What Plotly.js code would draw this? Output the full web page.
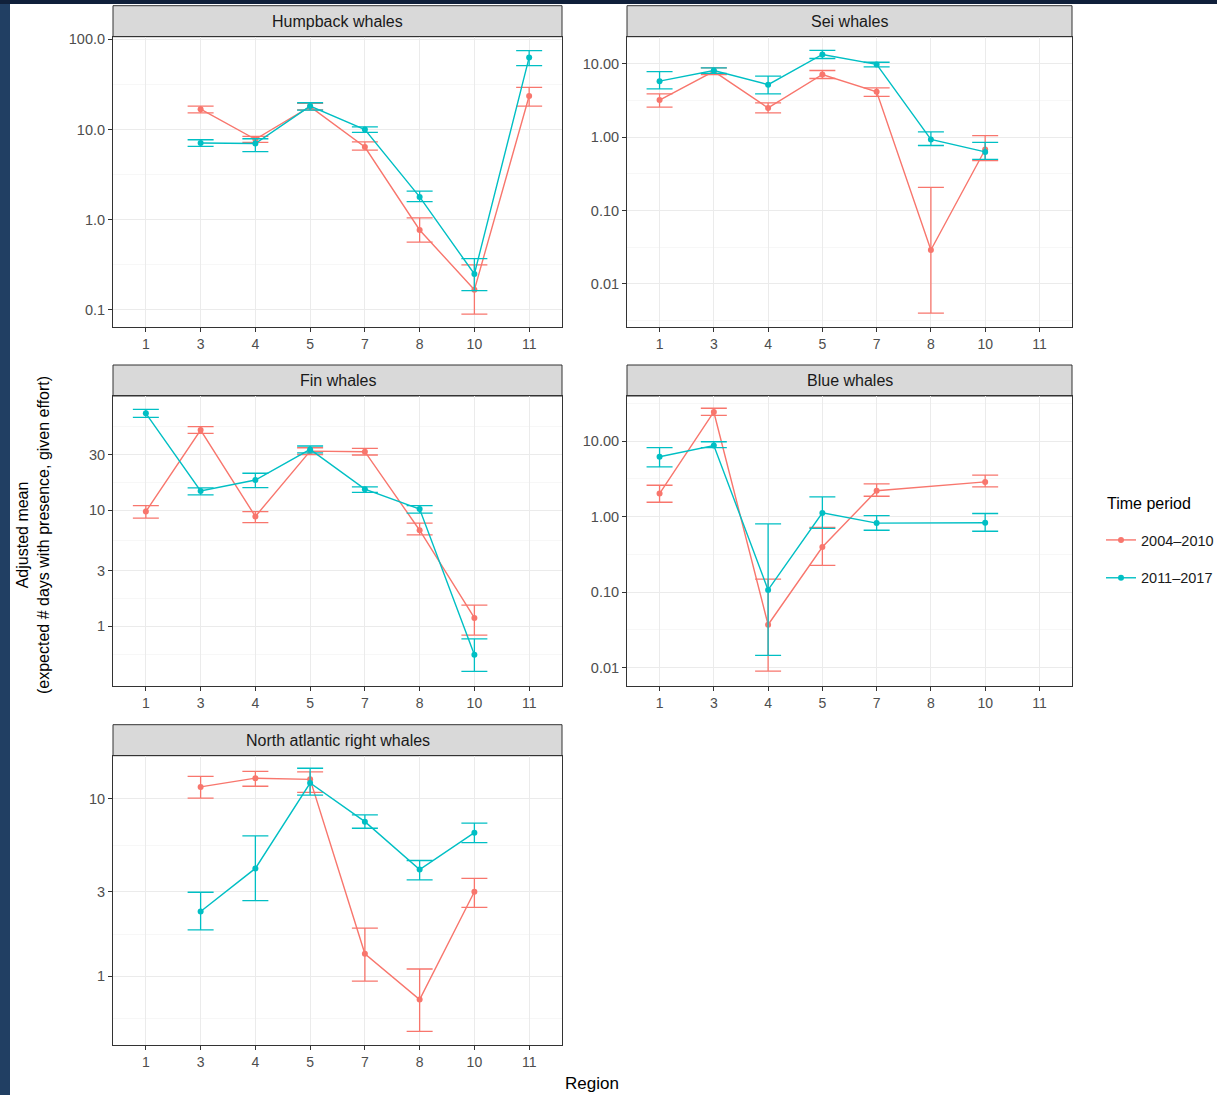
<!DOCTYPE html>
<html>
<head>
<meta charset="utf-8">
<script src="https://cdn.plot.ly/plotly-3.0.1.min.js"></script>
<style>html,body{margin:0;padding:0;background:#fff;}#chart{width:1217px;height:1095px;}</style>
</head>
<body>
<div id="chart"></div>
<script>
// ---------------- DATA ----------------
const regions = ['1','3','4','5','7','8','10','11'];
const periods = ['2004\u20132010', '2011\u20132017'];
const legendTitle = 'Time period';

// Humpback whales
const hbRegions = ['3','4','5','7','8','10','11'];
const hbMeanA = [16.8, 7.8, 17.9, 6.4, 0.77, 0.167, 23.5];
const hbLowA  = [15.3, 7.2, 16.5, 5.9, 0.565, 0.09, 18.2];
const hbHighA = [18.2, 8.4, 19.5, 7.3, 1.05, 0.316, 29.3];
const hbMeanB = [7.1, 7.0, 18.2, 10.0, 1.79, 0.25, 63];
const hbLowB  = [6.5, 5.7, 16.4, 9.3, 1.59, 0.164, 51];
const hbHighB = [7.7, 7.9, 19.8, 10.7, 2.08, 0.37, 75];
const hbTicks = [0.1, 1, 10, 100];
const hbTickText = ['0.1', '1.0', '10.0', '100.0'];

// Sei whales
const seiRegions = ['1','3','4','5','7','8','10'];
const seiMeanA = [3.2, 7.9, 2.5, 7.15, 4.15, 0.029, 0.68];
const seiLowA  = [2.56, 7.1, 2.14, 6.3, 3.6, 0.004, 0.48];
const seiHighA = [3.9, 8.8, 2.93, 8.1, 4.7, 0.207, 1.05];
const seiMeanB = [5.8, 8.1, 5.2, 13.4, 9.8, 0.93, 0.63];
const seiLowB  = [4.56, 7.4, 3.9, 11.8, 9.1, 0.77, 0.50];
const seiHighB = [7.8, 8.8, 6.8, 15.2, 10.5, 1.18, 0.85];
const seiTicks = [0.01, 0.1, 1, 10];
const seiTickText = ['0.01', '0.10', '1.00', '10.00'];

// Fin whales
const finRegions = ['1','3','4','5','7','8','10'];
const finMeanA = [9.7, 48.7, 8.8, 32.1, 31.7, 6.7, 1.18];
const finLowA  = [8.5, 45.6, 7.8, 30, 29.7, 6.1, 0.84];
const finHighA = [10.9, 52, 9.7, 34.3, 33.8, 7.7, 1.52];
const finMeanB = [67.8, 14.6, 18.1, 33.2, 15.1, 10.2, 0.57];
const finLowB  = [62.6, 13.5, 15.6, 31, 14.2, 9.4, 0.41];
const finHighB = [73.3, 15.5, 20.7, 35.5, 15.8, 10.9, 0.78];
const finTicks = [1, 3, 10, 30];
const finTickText = ['1', '3', '10', '30'];

// Blue whales
const blueRegions = ['1','3','4','5','7','10'];
const blueMeanA = [2.02, 24.3, 0.037, 0.395, 2.2, 2.88];
const blueLowA  = [1.55, 21.9, 0.009, 0.226, 1.86, 2.48];
const blueHighA = [2.6, 27.2, 0.149, 0.72, 2.72, 3.54];
const blueMeanB = [6.2, 8.75, 0.107, 1.12, 0.82, 0.83];
const blueLowB  = [4.56, 8.2, 0.0145, 0.70, 0.66, 0.64];
const blueHighB = [8.2, 9.8, 0.8, 1.82, 1.03, 1.1];
const blueTicks = [0.01, 0.1, 1, 10];
const blueTickText = ['0.01', '0.10', '1.00', '10.00'];

// North atlantic right whales
const narwRegions = ['3','4','5','7','8','10'];
const narwMeanA = [11.7, 13.1, 12.9, 1.34, 0.74, 3.0];
const narwLowA  = [10.1, 11.8, 10.9, 0.94, 0.49, 2.45];
const narwHighA = [13.4, 14.3, 14.2, 1.87, 1.1, 3.57];
const narwMeanB = [2.32, 4.06, 12.3, 7.45, 4.0, 6.46];
const narwLowB  = [1.83, 2.67, 10.5, 6.84, 3.5, 5.67];
const narwHighB = [2.98, 6.2, 14.9, 8.13, 4.5, 7.3];
const narwTicks = [1, 3, 10];
const narwTickText = ['1', '3', '10'];

// ---------------- STYLE / LAYOUT ----------------
const W = 1217, H = 1095;
const FONT = 'Liberation Sans, Arial, Helvetica, sans-serif';
const colA = '#F8766D', colB = '#00BFC4';
const px = v => v / W;
const py = v => 1 - v / H;

const panels = [
  {name:'Humpback whales', x:hbRegions, A:[hbMeanA,hbLowA,hbHighA], B:[hbMeanB,hbLowB,hbHighB], ticks:hbTicks, tt:hbTickText, yr:[-1.186, 2.029], col:0, top:36.7, bot:326.7},
  {name:'Sei whales', x:seiRegions, A:[seiMeanA,seiLowA,seiHighA], B:[seiMeanB,seiLowB,seiHighB], ticks:seiTicks, tt:seiTickText, yr:[-2.582, 1.369], col:1, top:36.7, bot:326.7},
  {name:'Fin whales', x:finRegions, A:[finMeanA,finLowA,finHighA], B:[finMeanB,finLowB,finHighB], ticks:finTicks, tt:finTickText, yr:[-0.513, 1.98], col:0, top:396, bot:686},
  {name:'Blue whales', x:blueRegions, A:[blueMeanA,blueLowA,blueHighA], B:[blueMeanB,blueLowB,blueHighB], ticks:blueTicks, tt:blueTickText, yr:[-2.243, 1.597], col:1, top:396, bot:686},
  {name:'North atlantic right whales', x:narwRegions, A:[narwMeanA,narwLowA,narwHighA], B:[narwMeanB,narwLowB,narwHighB], ticks:narwTicks, tt:narwTickText, yr:[-0.387, 1.244], col:0, top:755.7, bot:1045}
];
const colX = [[113, 562], [627, 1072]];
const stripH = 31;

function minorTicks(majors, yr) {
  // ggplot-style minor breaks: midpoints (in log space) of extended majors
  let b = majors.map(v => Math.log10(v));
  const bd = b[1] - b[0];
  if (yr[0] < b[0]) b = [b[0] - bd].concat(b);
  if (yr[1] > b[b.length - 1]) b = b.concat([b[b.length - 1] + bd]);
  const out = [];
  for (let i = 0; i < b.length - 1; i++) {
    const m = (b[i] + b[i + 1]) / 2;
    if (m > yr[0] && m < yr[1]) out.push(Math.pow(10, m));
  }
  return out;
}

const traces = [];
const layout = {
  width: W, height: H,
  margin: {l:0, r:0, t:0, b:0, autoexpand:false},
  paper_bgcolor: '#ffffff', plot_bgcolor: '#ffffff',
  font: {family: FONT, color: '#4d4d4d', size: 14},
  showlegend: true,
  legend: {
    x: px(1101), y: py(524), xanchor: 'left', yanchor: 'top',
    bgcolor: 'rgba(0,0,0,0)', borderwidth: 0,
    font: {size: 14.5, color: '#1a1a1a', family: FONT},
    tracegroupgap: 16, itemwidth: 30
  },
  shapes: [], annotations: []
};

panels.forEach((p, i) => {
  const n = i === 0 ? '' : String(i + 1);
  const xa = 'x' + n, ya = 'y' + n;
  [[p.A, colA, periods[0], 'a'], [p.B, colB, periods[1], 'b']].forEach(([s, c, nm, g]) => {
    const [mean, lo, hi] = s;
    traces.push({
      type: 'scatter', mode: 'lines+markers',
      x: p.x, y: mean, xaxis: xa, yaxis: ya,
      name: nm, legendgroup: g, showlegend: i === 0,
      line: {color: c, width: 1.4},
      marker: {color: c, size: 6},
      error_y: {type: 'data', symmetric: false,
        array: hi.map((v, k) => v - mean[k]),
        arrayminus: mean.map((v, k) => v - lo[k]),
        color: c, thickness: 1.3, width: 13},
      hoverinfo: 'x+y'
    });
  });
  const cx = colX[p.col];
  layout['xaxis' + n] = {
    type: 'category', categoryorder: 'array', categoryarray: regions,
    domain: [px(cx[0]), px(cx[1])], anchor: ya, range: [-0.6, 7.6],
    showline: true, mirror: true, linecolor: '#333333', linewidth: 1,
    ticks: 'outside', ticklen: 4, tickcolor: '#333333', tickwidth: 1,
    showgrid: true, gridcolor: '#ebebeb', gridwidth: 1, zeroline: false,
    tickfont: {size: 14, color: '#4d4d4d', family: FONT}, fixedrange: true
  };
  layout['yaxis' + n] = {
    type: 'log', domain: [py(p.bot), py(p.top)], anchor: xa, range: p.yr,
    tickmode: 'array', tickvals: p.ticks, ticktext: p.tt,
    showline: true, mirror: true, linecolor: '#333333', linewidth: 1,
    ticks: 'outside', ticklen: 4, tickcolor: '#333333', tickwidth: 1,
    showgrid: true, gridcolor: '#ebebeb', gridwidth: 1, zeroline: false,
    minor: {tickmode: 'array', tickvals: minorTicks(p.ticks, p.yr), showgrid: true, gridcolor: '#f1f1f1', gridwidth: 0.6, ticks: ''},
    tickfont: {size: 14.5, color: '#4d4d4d', family: FONT}, fixedrange: true
  };
  // facet strip
  layout.shapes.push({type: 'rect', xref: 'paper', yref: 'paper',
    x0: px(cx[0]), x1: px(cx[1]), y0: py(p.top), y1: py(p.top - stripH),
    fillcolor: '#d9d9d9', line: {color: '#333333', width: 1}, layer: 'below'});
  layout.annotations.push({xref: 'paper', yref: 'paper', x: px((cx[0] + cx[1]) / 2), y: py(p.top - stripH / 2),
    text: p.name, showarrow: false, xanchor: 'center', yanchor: 'middle',
    font: {size: 16, color: '#1a1a1a', family: FONT}});
});

// legend title
layout.annotations.push({xref: 'paper', yref: 'paper', x: px(1105), y: py(503), text: legendTitle,
  showarrow: false, xanchor: 'left', yanchor: 'middle', font: {size: 16, color: '#000000', family: FONT}});
// axis titles
layout.annotations.push({xref: 'paper', yref: 'paper', x: px(592), y: py(1083), text: 'Region',
  showarrow: false, xanchor: 'center', yanchor: 'middle', font: {size: 17, color: '#000000', family: FONT}});
layout.annotations.push({xref: 'paper', yref: 'paper', x: px(33), y: py(535),
  text: 'Adjusted mean<br>(expected # days with presence, given effort)', textangle: -90,
  showarrow: false, xanchor: 'center', yanchor: 'middle', font: {size: 16, color: '#000000', family: FONT}});

// dark frame edges seen in the reference image
layout.shapes.push({type: 'rect', xref: 'paper', yref: 'paper', x0: 0, x1: px(10), y0: 0, y1: 1,
  fillcolor: '#213f63', line: {width: 0}, layer: 'above'});
layout.shapes.push({type: 'rect', xref: 'paper', yref: 'paper', x0: 0, x1: 1, y0: py(4), y1: 1,
  fillcolor: '#10203a', line: {width: 0}, layer: 'above'});

Plotly.newPlot('chart', traces, layout, {displayModeBar: false, staticPlot: true});
</script>
</body>
</html>
